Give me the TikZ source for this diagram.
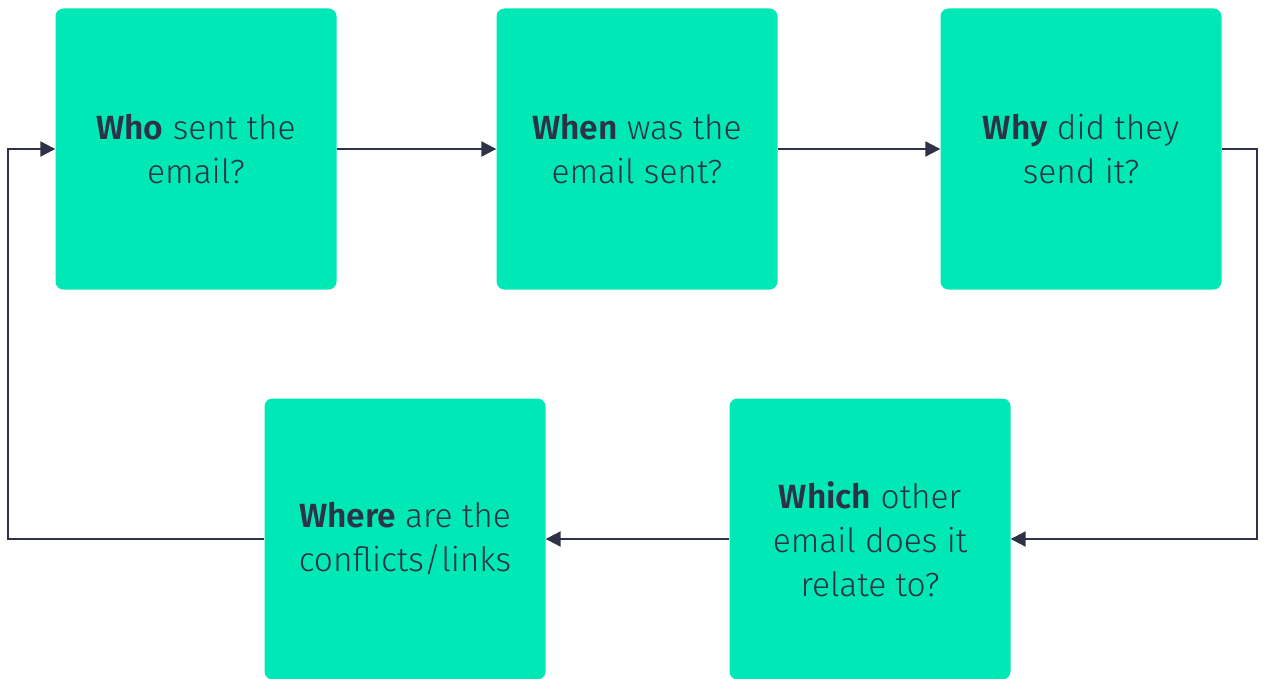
\documentclass[tikz,border=0pt]{standalone}
\usepackage{fontspec}
\setmainfont{Fira Sans Light}[BoldFont={Fira Sans SemiBold}]
\usetikzlibrary{arrows.meta}

\definecolor{boxgreen}{HTML}{00E8B6}
\definecolor{inkblue}{HTML}{2D3246}

\tikzset{
  question/.style={fill=boxgreen, rounded corners=8pt, minimum width=281pt,
    minimum height=281pt, align=center, text=inkblue,
    font=\fontsize{33.5}{44}\selectfont},
  flow/.style={draw=inkblue, line width=2.2pt,
    -{Triangle[length=15pt,width=15pt]}}
}

\begin{document}
\begin{tikzpicture}[x=1pt,y=-1pt]
\useasboundingbox (0,0) rectangle (1265,679);
% top row
\node[question] (who)  at (196,149)  {\textbf{Who} sent the\\email?};
\node[question] (when) at (637,149)  {\textbf{When} was the\\email sent?};
\node[question] (why)  at (1081,149) {\textbf{Why} did they\\send it?};
% bottom row
\node[question] (which) at (870,539) {\textbf{Which} other\\email does it\\relate to?};
\node[question] (where) at (405,539) {\textbf{Where} are the\\conflicts/links};
% connectors
\coordinate (rtop) at (1257,149);
\coordinate (rbot) at (1257,539);
\coordinate (lbot) at (8,539);
\coordinate (ltop) at (8,149);
\draw[flow] (who) -- (when);
\draw[flow] (when) -- (why);
\draw[flow] (why.east) -- (rtop) -- (rbot) -- (which.east);
\draw[flow] (which) -- (where);
\draw[flow] (where.west) -- (lbot) -- (ltop) -- (who.west);
\end{tikzpicture}
\end{document}
